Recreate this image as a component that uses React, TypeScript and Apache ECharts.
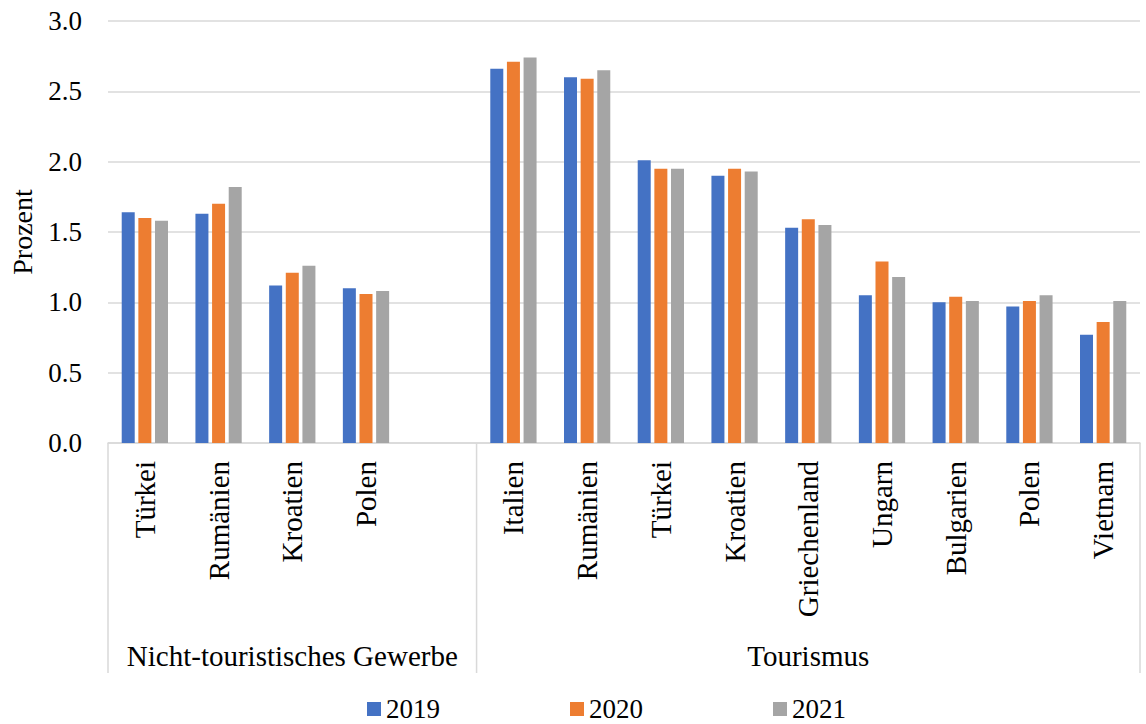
import React, { useEffect, useRef } from "react";
import * as echarts from "echarts";

// Country categories; the empty slot closes the first group.
const categories = [
  "Türkei", "Rumänien", "Kroatien", "Polen", "",
  "Italien", "Rumänien", "Türkei", "Kroatien", "Griechenland",
  "Ungarn", "Bulgarien", "Polen", "Vietnam",
];
const groupNames = ["Nicht-touristisches Gewerbe", "Tourismus"];
const groupSizes = [5, 9];

const years = ["2019", "2020", "2021"];
const values2019 = [1.64, 1.63, 1.12, 1.10, null, 2.66, 2.60, 2.01, 1.90, 1.53, 1.05, 1.00, 0.97, 0.77];
const values2020 = [1.60, 1.70, 1.21, 1.06, null, 2.71, 2.59, 1.95, 1.95, 1.59, 1.29, 1.04, 1.01, 0.86];
const values2021 = [1.58, 1.82, 1.26, 1.08, null, 2.74, 2.65, 1.95, 1.93, 1.55, 1.18, 1.01, 1.05, 1.01];

const colors = ["#4472C4", "#ED7D31", "#A5A5A5"];
const FONT = "Liberation Serif, serif";
const GRID_COLOR = "#d9d9d9";

export default function App() {
  const ref = useRef<HTMLDivElement>(null);

  useEffect(() => {
    if (!ref.current) return;
    const chart = echarts.init(ref.current, null, { renderer: "svg" });
    const seriesData = [values2019, values2020, values2021];

    chart.setOption({
      animation: false,
      color: colors,
      textStyle: { fontFamily: FONT, color: "#000" },
      grid: { left: 108, right: 6, top: 21, bottom: 281 },
      legend: {
        data: years,
        left: 367,
        bottom: 0,
        padding: 0,
        icon: "rect",
        itemWidth: 14,
        itemHeight: 14,
        itemGap: 130,
        textStyle: { fontFamily: FONT, fontSize: 27, color: "#000", lineHeight: 30 },
      },
      xAxis: {
        type: "category",
        data: categories,
        axisLine: { lineStyle: { color: GRID_COLOR, width: 1.5 } },
        axisTick: { show: false },
        axisLabel: {
          interval: 0,
          rotate: 90,
          margin: 18,
          fontFamily: FONT,
          fontSize: 29,
          color: "#000",
        },
      },
      yAxis: {
        type: "value",
        min: 0,
        max: 3,
        interval: 0.5,
        name: "Prozent",
        nameLocation: "middle",
        nameRotate: 90,
        nameGap: 72,
        nameTextStyle: { fontFamily: FONT, fontSize: 28, color: "#000" },
        axisLine: { show: false },
        axisTick: { show: false },
        axisLabel: {
          margin: 26,
          fontFamily: FONT,
          fontSize: 27,
          color: "#000",
          formatter: (v: number) => v.toFixed(1),
        },
        splitLine: { lineStyle: { color: GRID_COLOR, width: 1.5 } },
      },
      series: years.map((y, i) => ({
        name: y,
        type: "bar",
        data: seriesData[i],
        barWidth: 13,
        barGap: "28%",
      })),
    });

    // Group separators and group titles below the category labels.
    const c0 = chart.convertToPixel({ xAxisIndex: 0 }, 0) as number;
    const c1 = chart.convertToPixel({ xAxisIndex: 0 }, 1) as number;
    const band = c1 - c0;
    const boundary = (i: number) => c0 - band / 2 + i * band;
    const base = chart.convertToPixel({ yAxisIndex: 0 }, 0) as number;
    const sepLength = 230;

    const bounds: number[] = [0];
    groupSizes.forEach((s) => bounds.push(bounds[bounds.length - 1] + s));

    const graphic: any[] = bounds.map((b) => ({
      type: "line",
      shape: { x1: boundary(b), y1: base, x2: boundary(b), y2: base + sepLength },
      style: { stroke: GRID_COLOR, lineWidth: 1.5 },
      silent: true,
    }));
    groupNames.forEach((name, gi) => {
      const mid = (boundary(bounds[gi]) + boundary(bounds[gi + 1])) / 2;
      graphic.push({
        type: "text",
        x: mid,
        y: base + 213,
        style: {
          text: name,
          fontFamily: FONT,
          fontSize: 29,
          fill: "#000",
          align: "center",
          verticalAlign: "middle",
        },
        silent: true,
      });
    });
    chart.setOption({ graphic });

    return () => chart.dispose();
  }, []);

  return (
    <div
      ref={ref}
      style={{ position: "fixed", left: 0, top: 0, width: 1146, height: 724, background: "#fff" }}
    />
  );
}
